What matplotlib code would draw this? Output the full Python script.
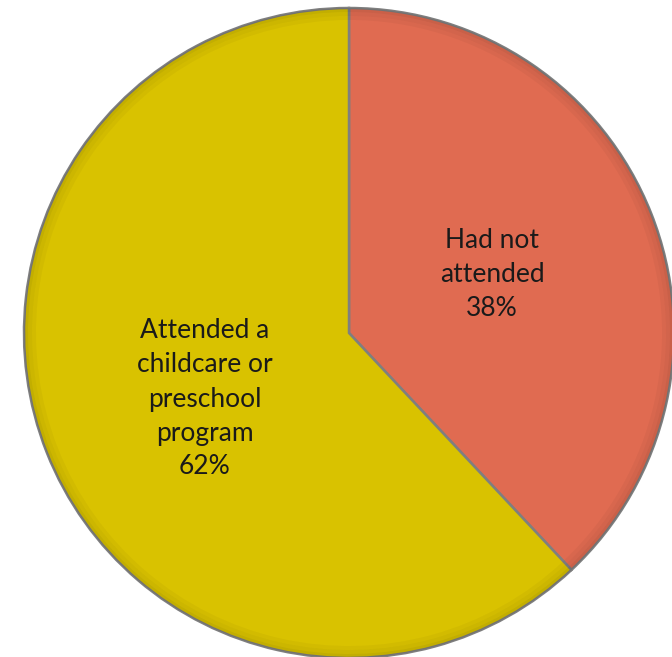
import matplotlib.pyplot as plt
from matplotlib.patches import Wedge

# data
labels = ["Had not\nattended", "Attended a\nchildcare or\npreschool\nprogram"]
shares = [38, 62]
colors = ["#E06B51", "#D9C200"]

plt.rcParams['font.family'] = ['Lato', 'DejaVu Sans']

fig = plt.figure(figsize=(6.72, 6.57), dpi=100)
ax = fig.add_axes([0, 0, 1, 1])

center = (349, 324)
radius = 325

wedges, _ = ax.pie(shares, colors=colors, startangle=90, counterclock=False,
                   center=center, radius=radius, frame=True,
                   wedgeprops=dict(edgecolor='#7f7f7f', linewidth=1.8))
ax.set_xlim(0, 672)
ax.set_ylim(0, 657)
ax.set_aspect('equal')
ax.axis('off')

# soft bevel: darker rim just inside each wedge
for w in wedges:
    for k, a in [(0, 0.10), (4, 0.06), (8, 0.03)]:
        rim = Wedge(center, radius - k, w.theta1, w.theta2, width=4,
                    facecolor='black', alpha=a, edgecolor='none')
        ax.add_patch(rim)

label_pos = [(492, 382), (205, 258)]
for lab, val, (x, y) in zip(labels, shares, label_pos):
    ax.text(x, y, f"{lab}\n{val}%", ha='center', va='center',
            fontsize=19, color='#1a1a1a', linespacing=1.45)

fig.savefig("out.png", dpi=100)
